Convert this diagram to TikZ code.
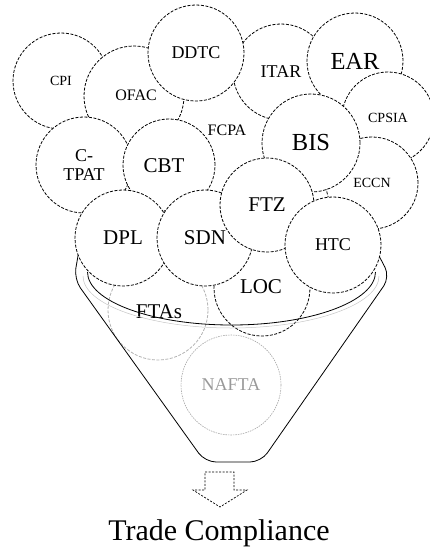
\documentclass[tikz,border=0pt]{standalone}
\usepackage{fontspec}
\setmainfont{Liberation Serif}
\usepackage{xcolor}
\usetikzlibrary{positioning}

\tikzset{
    bola/.style={shape=circle, draw=black, dash pattern=on 3pt off 1.5pt, line width=0.8pt, fill=white, minimum size=#1, inner sep=0pt, align=center},
    hueca/.style={shape=circle, draw=black, dash pattern=on 3pt off 1.5pt, line width=0.8pt, minimum size=#1, inner sep=0pt, align=center},
    t14/.style={font=\fontsize{14}{15}\selectfont},
    t16/.style={font=\fontsize{16}{17}\selectfont},
    t18/.style={font=\fontsize{18}{19}\selectfont},
    t21/.style={font=\fontsize{21}{22}\selectfont},
    t24/.style={font=\fontsize{24.5}{25}\selectfont},
}

\begin{document}
\begin{tikzpicture}[x=1pt, y=-1pt]
    \useasboundingbox (0,0) rectangle (430,552);

    \node[hueca=100, draw=gray!60] (FTAs) at (158,310) {};
    \node[t21] at (159,312) {FTAs};
    \node[hueca=100, draw=gray!70, dash pattern=on 1.5pt off 1pt, line width=0.6pt, text=gray!80, t18] (NAFTA) at (231,385) {NAFTA};
    \node[hueca=96] (LOC) at (262,288) {};
    \node[t21] at (261,287) {LOC};

    \draw[line width=0.8pt, rounded corners=11pt] (79,250) -- (74,279) -- (205,462) -- (261,462) -- (390,277) -- (376,250);
    \draw[gray!45, line width=0.5pt] (83,276) arc[start angle=180, end angle=0, x radius=148, y radius=52];
    \draw[line width=0.8pt] (87.5,272) arc[start angle=180, end angle=0, x radius=144, y radius=53];

    \node[bola=96, t14] (CPI) at (61,81) {CPI};
    \node[bola=100] (OFAC) at (134,96) {};
    \node[t16] at (136,95) {OFAC};
    \node[bola=96, t18] (ITAR) at (281,72) {ITAR};
    \node[bola=96, t18] (DDTC) at (196,53) {DDTC};
    \node[bola=96, t24] (EAR) at (355,61) {EAR};
    \node[bola=92, t14] (CPSIA) at (388,118) {CPSIA};
    \node[bola=92, t14] (ECCN) at (372,183) {ECCN};
    \node[bola=98, t24] (BIS) at (311,143) {BIS};
    \node[bola=96, t18] (CTPAT) at (84,165) {C-\\TPAT};
    \node[bola=92] (CBT) at (169,165) {};
    \node[t21] at (164,166) {CBT};
    \node[t16] (FCPA) at (227,130) {FCPA};
    \node[bola=96, t21] (DPL) at (123,238) {DPL};
    \node[bola=96, t21] (SDN) at (205,238) {SDN};
    \node[bola=94, t21] (FTZ) at (267,205) {FTZ};
    \node[bola=96, t18] (HTC) at (333,245) {HTC};

    \draw[dash pattern=on 2pt off 1.5pt, line width=0.7pt] (205,472) -- (234,472) -- (234,490) -- (247,490) -- (220,507) -- (193,490) -- (205,490) -- cycle;

    \node[font=\fontsize{30}{31}\selectfont] (TC) at (219,533) {Trade Compliance};
\end{tikzpicture}
\end{document}
